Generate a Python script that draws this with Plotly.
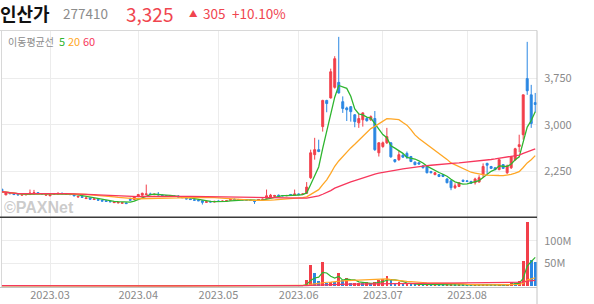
import pandas as pd
import plotly.graph_objects as go

# ---------------- data ----------------
holidays = ['2023-03-01', '2023-05-01', '2023-05-05', '2023-05-29', '2023-06-06', '2023-08-15']
dates = pd.bdate_range('2023-02-13', '2023-08-25', freq='C', holidays=holidays).strftime('%Y-%m-%d').tolist()

opens = [1965, 1875, 1900, 1890, 1880, 1870, 1875, 1880, 1890, 1910,
         1895, 1870, 1860, 1885, 1890, 1900, 1895, 1890, 1880, 1840,
         1850, 1815, 1825, 1800, 1800, 1785, 1780, 1770, 1750, 1745,
         1740, 1745, 1800, 1800, 1850, 1870, 1880, 1890, 1880, 1885,
         1870, 1860, 1855, 1855, 1855, 1840, 1820, 1810, 1795, 1790,
         1780, 1755, 1770, 1760, 1775, 1770, 1775, 1790, 1805, 1800,
         1800, 1795, 1790, 1780, 1790, 1800, 1820, 1840, 1850, 1870,
         1865, 1860, 1880, 1870, 1890, 1880, 1900, 2150, 2520, 2600,
         2970, 3390, 3430, 3600, 3680, 3370, 3270, 3290, 3160, 3030,
         3080, 3100, 3080, 3100, 2550, 2650, 2710, 2710, 2440, 2440,
         2510, 2540, 2490, 2400, 2390, 2340, 2330, 2250, 2200, 2200,
         2200, 2130, 2100, 1990, 2010, 2110, 2100, 2090, 2070, 2080,
         2200, 2380, 2330, 2310, 2280, 2360, 2230, 2310, 2440, 2650,
         2840, 3740, 3480, 3355]
highs = [1975, 1915, 1910, 1900, 1890, 1890, 1895, 1960, 1955, 1920,
         1900, 1895, 1890, 1905, 1910, 1910, 1905, 1895, 1885, 1860,
         1855, 1835, 1830, 1820, 1810, 1795, 1790, 1780, 1770, 1765,
         1760, 1755, 1830, 1845, 1890, 1910, 2040, 1910, 1895, 1920,
         1880, 1870, 1870, 1865, 1870, 1850, 1830, 1820, 1805, 1800,
         1790, 1775, 1780, 1780, 1785, 1785, 1790, 1810, 1815, 1810,
         1805, 1800, 1795, 1790, 1805, 1815, 1960, 1890, 1875, 1880,
         1870, 1875, 1890, 1960, 1900, 1900, 2080, 2600, 2790, 2760,
         3400, 3400, 3900, 4100, 4410, 3455, 3290, 3300, 3170, 3190,
         3200, 3120, 3150, 3220, 2720, 2730, 2950, 2720, 2450, 2580,
         2530, 2570, 2500, 2410, 2400, 2350, 2340, 2260, 2240, 2210,
         2210, 2140, 2110, 2060, 2080, 2120, 2110, 2100, 2150, 2190,
         2380, 2390, 2340, 2320, 2450, 2370, 2360, 2500, 2630, 2840,
         3480, 4330, 3640, 3510]
lows = [1915, 1870, 1885, 1875, 1870, 1865, 1870, 1875, 1885, 1890,
        1880, 1860, 1855, 1875, 1885, 1885, 1880, 1870, 1850, 1830,
        1825, 1810, 1800, 1795, 1785, 1770, 1765, 1755, 1745, 1740,
        1735, 1730, 1785, 1795, 1845, 1865, 1875, 1870, 1870, 1865,
        1860, 1850, 1850, 1845, 1830, 1825, 1805, 1795, 1785, 1775,
        1720, 1750, 1755, 1755, 1765, 1765, 1770, 1785, 1795, 1790,
        1790, 1785, 1780, 1730, 1785, 1795, 1815, 1835, 1845, 1855,
        1850, 1855, 1860, 1865, 1875, 1875, 1890, 2130, 2440, 2560,
        2890, 3200, 3420, 3580, 3500, 3190, 3060, 3050, 2960, 2950,
        2970, 3050, 3060, 2580, 2490, 2630, 2690, 2470, 2390, 2420,
        2470, 2450, 2400, 2350, 2360, 2300, 2220, 2220, 2190, 2160,
        2160, 2060, 1950, 1970, 2000, 2080, 2080, 2050, 2040, 2075,
        2150, 2210, 2290, 2270, 2270, 2290, 2210, 2290, 2420, 2560,
        2760, 3480, 2950, 3200]
closes = [1925, 1905, 1895, 1880, 1875, 1880, 1885, 1905, 1910, 1895,
          1890, 1885, 1880, 1895, 1900, 1895, 1890, 1880, 1860, 1850,
          1835, 1825, 1805, 1810, 1790, 1775, 1770, 1765, 1760, 1755,
          1750, 1735, 1790, 1840, 1880, 1900, 1890, 1880, 1885, 1875,
          1865, 1855, 1860, 1850, 1840, 1830, 1810, 1800, 1790, 1780,
          1755, 1765, 1760, 1770, 1770, 1775, 1780, 1800, 1800, 1795,
          1795, 1790, 1785, 1770, 1800, 1805, 1860, 1870, 1865, 1860,
          1860, 1865, 1870, 1890, 1880, 1890, 2000, 2550, 2600, 2570,
          3390, 3340, 3850, 4060, 3510, 3260, 3240, 3210, 3050, 3100,
          3190, 3065, 3130, 2600, 2710, 2710, 2810, 2485, 2410, 2520,
          2480, 2480, 2410, 2360, 2370, 2310, 2230, 2230, 2230, 2170,
          2170, 2070, 1990, 2020, 2070, 2090, 2090, 2060, 2130, 2150,
          2330, 2350, 2300, 2280, 2440, 2300, 2340, 2490, 2615, 2680,
          3480, 3545, 3020, 3325]
# volume in millions of shares
volumes_m = [0.45, 0.38, 0.30, 0.25, 0.22, 0.20, 0.24, 0.55, 0.48, 0.30,
             0.22, 0.26, 0.28, 0.25, 0.22, 0.20, 0.18, 0.22, 0.30, 0.26,
             0.24, 0.28, 0.22, 0.20, 0.21, 0.25, 0.22, 0.20, 0.24, 0.23,
             0.22, 0.20, 0.35, 0.40, 0.45, 0.42, 0.70, 0.36, 0.30, 0.32,
             0.26, 0.22, 0.20, 0.20, 0.25, 0.22, 0.24, 0.22, 0.20, 0.21,
             0.35, 0.26, 0.22, 0.20, 0.19, 0.18, 0.20, 0.24, 0.21, 0.20,
             0.19, 0.18, 0.20, 0.28, 0.25, 0.22, 0.90, 0.55, 0.40, 0.30,
             0.26, 0.28, 0.35, 0.80, 0.45, 0.50, 13.0, 46.0, 28.0, 10.0,
             53.0, 6.0, 9.0, 8.0, 29.0, 12.0, 17.0, 5.0, 5.0, 6.0,
             5.0, 7.0, 6.0, 8.0, 12.0, 15.0, 22.0, 12.0, 5.0, 7.0,
             4.0, 4.0, 3.5, 3.0, 3.0, 2.5, 3.0, 2.0, 2.0, 1.8,
             1.6, 2.0, 3.0, 2.0, 2.0, 1.5, 1.4, 1.3, 2.0, 2.0,
             4.0, 4.0, 2.0, 1.8, 3.0, 2.0, 3.0, 8.0, 6.0, 11.0,
             55.0, 140.0, 57.0, 53.0]

month_ticks = ['2023-03-02', '2023-04-03', '2023-05-02', '2023-06-01', '2023-07-03', '2023-08-01']
month_labels = ['2023.03', '2023.04', '2023.05', '2023.06', '2023.07', '2023.08']
price_ticks = [2250, 3000, 3750]
vol_ticks = [50e6, 100e6]
vol_labels = ['50M', '100M']
ma_periods = [5, 20, 60]

# ---------------- styling ----------------
UP, DOWN = '#f23f4a', '#2b87e3'
MA_COLORS = {5: '#2fb52f', 20: '#ffa726', 60: '#f7375c'}
GRID = '#ececec'
TICK_FONT = dict(family='Noto Sans CJK KR, Noto Sans, sans-serif', size=11, color='#8a8a8a')

W, H = 594, 304
ML, MR, MT, MB = 1, 57, 31, 17
PW, PH = W - ML - MR, H - MT - MB


def px(x):
    return (x - ML) / PW


def py(y):
    return (H - MB - y) / PH


split = py(217.3)

close_s = pd.Series(closes, dtype=float)
vol = pd.Series(volumes_m, dtype=float) * 1e6
vol_colors = [UP if i == 0 or vol[i] >= vol[i - 1] else DOWN for i in range(len(vol))]

fig = go.Figure()
fig.add_trace(go.Candlestick(
    x=dates, open=opens, high=highs, low=lows, close=closes,
    increasing=dict(line=dict(color=UP, width=1), fillcolor=UP),
    decreasing=dict(line=dict(color=DOWN, width=1), fillcolor=DOWN),
    whiskerwidth=0, xaxis='x', yaxis='y', showlegend=False, hoverinfo='skip'))
for n in ma_periods:
    fig.add_trace(go.Scatter(x=dates, y=close_s.rolling(n, min_periods=1).mean(), mode='lines',
                             line=dict(color=MA_COLORS[n], width=1.3), xaxis='x', yaxis='y',
                             showlegend=False, hoverinfo='skip'))
fig.add_trace(go.Bar(x=dates, y=vol, marker=dict(color=vol_colors, line=dict(width=0)), width=0.68,
                     xaxis='x2', yaxis='y2', showlegend=False, hoverinfo='skip'))
for n in ma_periods:
    fig.add_trace(go.Scatter(x=dates, y=vol.rolling(n, min_periods=1).mean(), mode='lines',
                             line=dict(color=MA_COLORS[n], width=1.2), xaxis='x2', yaxis='y2',
                             showlegend=False, hoverinfo='skip'))

xr = [(ML - 1.9) / 4.01, (537 - 1.9) / 4.01]
common_x = dict(type='category', range=xr, tickvals=month_ticks, ticktext=month_labels,
                showgrid=True, gridcolor=GRID, gridwidth=1, zeroline=False, showline=False,
                tickfont=TICK_FONT, ticks='', fixedrange=True)
fig.update_layout(
    width=W, height=H, margin=dict(l=ML, r=MR, t=MT, b=MB),
    paper_bgcolor='white', plot_bgcolor='white', bargap=0,
    xaxis=dict(domain=[0, 1], anchor='y', showticklabels=False, rangeslider=dict(visible=False), **common_x),
    xaxis2=dict(domain=[0, 1], anchor='y2', matches='x', showticklabels=True, **common_x),
    yaxis=dict(domain=[split, 1], anchor='x', side='right', range=[1515, 4504],
               tickvals=price_ticks, tickformat=',', showgrid=True, gridcolor=GRID,
               zeroline=False, showline=False, tickfont=TICK_FONT,
               ticks='outside', ticklen=4, tickcolor='rgba(0,0,0,0)'),
    yaxis2=dict(domain=[0, split], anchor='x2', side='right', range=[-2.4e6, 151.8e6],
                tickvals=vol_ticks, ticktext=vol_labels, showgrid=True, gridcolor=GRID,
                zeroline=False, showline=False, tickfont=TICK_FONT,
                ticks='outside', ticklen=4, tickcolor='rgba(0,0,0,0)'),
)

shapes = [
    dict(type='line', xref='paper', yref='paper', x0=px(0), x1=px(537), y0=py(30.5), y1=py(30.5),
         line=dict(color='#d8d8d8', width=1)),
    dict(type='line', xref='paper', yref='paper', x0=px(1.5), x1=px(1.5), y0=py(30.5), y1=py(287.5),
         line=dict(color='#d8d8d8', width=1)),
    dict(type='line', xref='paper', yref='paper', x0=px(537), x1=px(537), y0=py(30.5), y1=py(304),
         line=dict(color='#c4c4c4', width=1)),
    dict(type='line', xref='paper', yref='paper', x0=px(0), x1=px(537), y0=py(287.5), y1=py(287.5),
         line=dict(color='#c4c4c4', width=1)),
    dict(type='line', xref='paper', yref='paper', x0=px(0), x1=px(537), y0=py(217.3), y1=py(217.3),
         line=dict(color='#3a3a3a', width=1.5)),
]
fig.update_layout(shapes=shapes)

KR = 'Noto Sans CJK KR, Noto Sans, sans-serif'


def ann(x, y, text, size, color, family=KR, anchor='left'):
    return dict(xref='paper', yref='paper', x=px(x), y=py(y), xanchor=anchor, yanchor='middle',
                text=text, showarrow=False, borderpad=0,
                font=dict(family=family, size=size, color=color))


last_close, prev_close = closes[-1], closes[-2]
chg = last_close - prev_close
pct = chg / prev_close * 100
RED_TXT = '#f0454f'
annotations = [
    ann(-1, 12.5, '<b>인산가</b>', 18, '#111111'),
    ann(62, 12.5, '277410', 13.5, '#8c8c8c'),
    ann(125, 13.5, f'{last_close:,}', 19, RED_TXT),
    ann(188, 12.5, '▲', 8.5, RED_TXT),
    ann(202, 12.5, f'{chg}', 13.5, RED_TXT),
    ann(231, 12.5, f'+{pct:.2f}%', 13.5, RED_TXT),
    ann(7, 41, '이동평균선', 10, '#8c8c8c'),
    ann(58, 41, '5', 11, MA_COLORS[5]),
    ann(67, 41, '20', 11, MA_COLORS[20]),
    ann(82, 41, '60', 11, MA_COLORS[60]),
    ann(3, 207, '<b>©PAXNet</b>', 16, 'rgba(160,160,160,0.55)', family='Liberation Sans, Arial, sans-serif'),
]
fig.update_layout(annotations=annotations)

fig.write_html('out.html')
